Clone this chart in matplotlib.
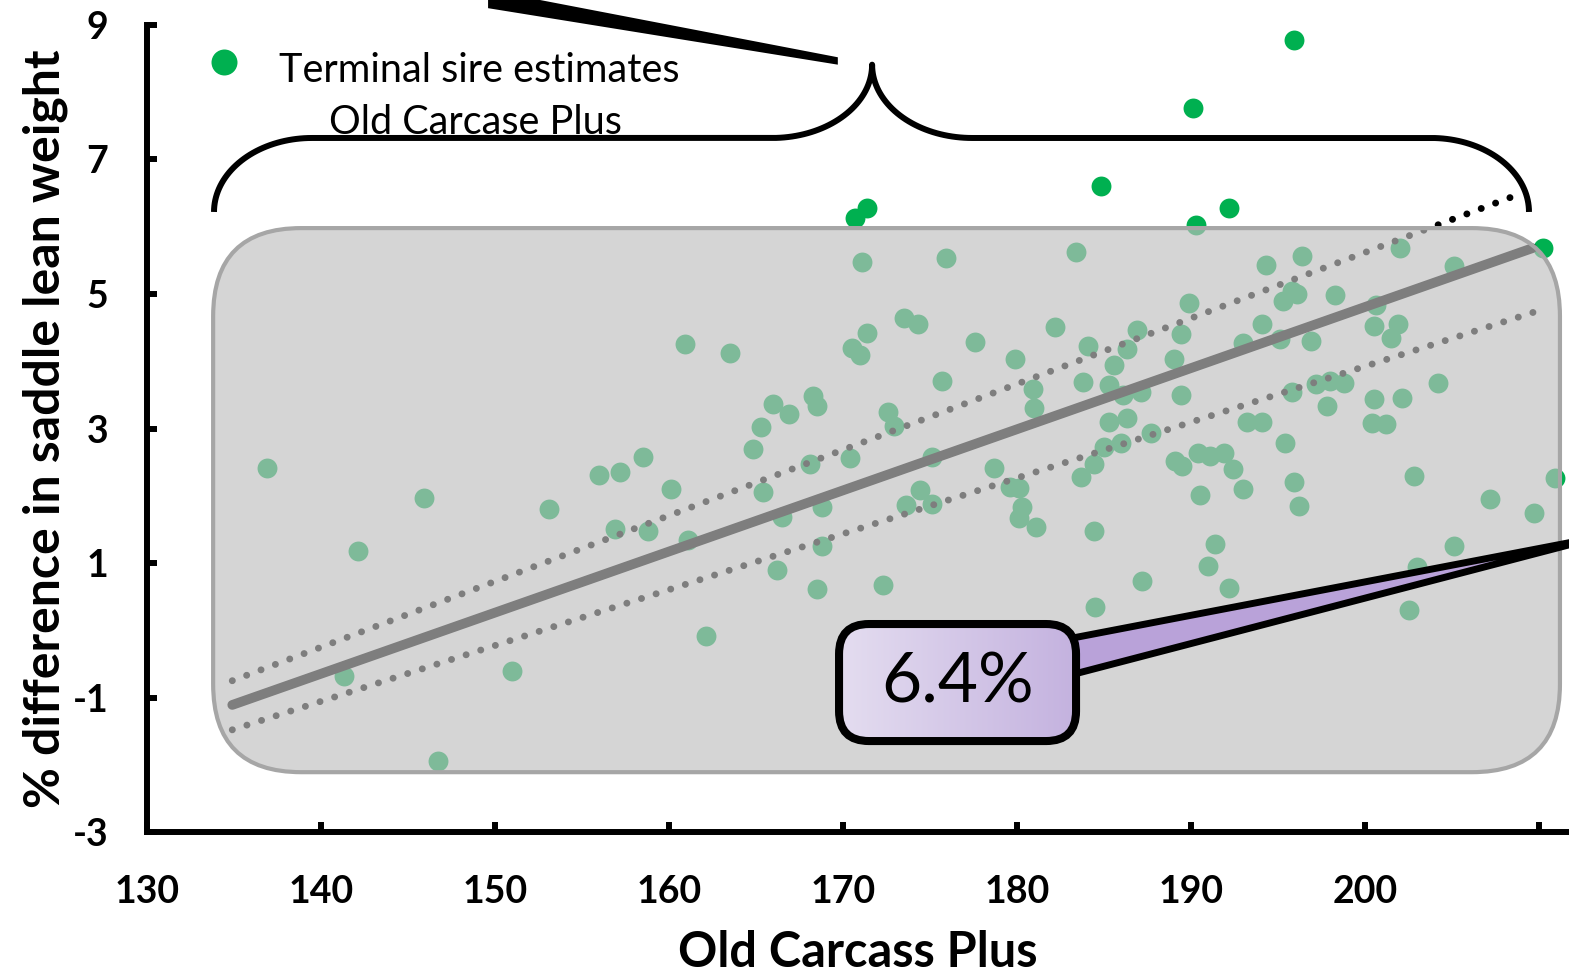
import numpy as np
import matplotlib.pyplot as plt
from matplotlib.patches import FancyBboxPatch, Polygon
from matplotlib.colors import LinearSegmentedColormap

plt.rcParams['font.family'] = ['Lato', 'DejaVu Sans']
plt.rcParams['axes.unicode_minus'] = False

# Terminal sire estimates: Old Carcase Plus vs % difference in saddle lean weight
ocp = [195.9, 190.1, 184.8, 192.2, 171.4, 170.7, 190.3, 210.2, 210.9,
       171.1, 175.9, 183.4, 160.9, 163.5, 173.5, 174.3, 171.4, 170.5, 171.0,
       177.6, 182.2, 179.9, 184.1, 175.7, 183.8, 185.3, 180.9, 181.0, 185.3,
       166.0, 166.9, 168.3, 168.5, 165.3, 164.8, 172.6, 172.9, 158.5, 160.1,
       168.1, 170.4, 175.1, 178.7, 179.6, 180.1, 185.0, 184.4, 183.7, 165.4,
       174.4, 194.3, 196.4, 202.0, 205.1, 189.9, 186.9, 189.4, 195.8, 196.1,
       195.3, 198.3, 194.1, 200.6, 200.5, 201.9, 201.5, 193.0, 195.1, 196.9,
       186.3, 185.6, 189.0, 186.1, 187.1, 189.4, 186.3, 186.0, 187.7, 195.8,
       197.2, 198.0, 198.8, 197.8, 200.5, 202.1, 204.2, 193.2, 194.1, 195.4,
       200.4, 201.2, 189.1, 189.5, 190.4, 191.1, 191.9, 192.4, 195.9, 202.8,
       193.0, 190.5, 207.2, 196.2, 209.7, 191.4, 191.0, 192.2, 187.2, 205.1,
       203.0, 202.5, 158.8, 161.1, 166.5, 168.8, 173.6, 175.1, 180.3, 180.1,
       181.1, 184.4, 168.8, 166.2, 168.5, 172.3, 184.5, 162.1, 136.9, 145.9,
       142.1, 153.1, 156.0, 157.2, 156.9, 141.3, 151.0, 146.7]
saddle = [8.78, 7.77, 6.61, 6.28, 6.28, 6.13, 6.03, 5.68, 2.26,
          5.48, 5.54, 5.62, 4.26, 4.13, 4.65, 4.55, 4.42, 4.20, 4.09,
          4.29, 4.51, 4.03, 4.23, 3.70, 3.69, 3.65, 3.59, 3.30, 3.09,
          3.36, 3.21, 3.49, 3.34, 3.02, 2.70, 3.24, 3.03, 2.57, 2.10,
          2.47, 2.56, 2.57, 2.42, 2.13, 2.11, 2.73, 2.47, 2.28, 2.05,
          2.08, 5.43, 5.57, 5.68, 5.42, 4.86, 4.47, 4.41, 5.05, 5.00,
          4.89, 4.99, 4.56, 4.83, 4.53, 4.56, 4.35, 4.27, 4.33, 4.30,
          4.18, 3.94, 4.04, 3.50, 3.54, 3.50, 3.15, 2.78, 2.94, 3.55,
          3.66, 3.71, 3.68, 3.33, 3.44, 3.46, 3.67, 3.10, 3.09, 2.79,
          3.08, 3.07, 2.52, 2.45, 2.63, 2.59, 2.63, 2.40, 2.21, 2.30,
          2.10, 2.01, 1.95, 1.85, 1.74, 1.28, 0.96, 0.63, 0.73, 1.26,
          0.94, 0.30, 1.47, 1.34, 1.68, 1.83, 1.87, 1.88, 1.84, 1.67,
          1.54, 1.48, 1.25, 0.89, 0.62, 0.67, 0.35, -0.08, 2.42, 1.97,
          1.18, 1.81, 2.31, 2.35, 1.50, -0.68, -0.60, -1.94]

# regression line and its two dotted bounds
fit_x = [134.9, 209.6]
fit_y = [-1.11, 5.68]
upper_x = [134.9, 208.4]
upper_y = [-0.75, 6.44]
lower_x = [134.9, 209.7]
lower_y = [-1.48, 4.73]

x_ticks = [130, 140, 150, 160, 170, 180, 190, 200, 210]
x_tick_labels = ['130', '140', '150', '160', '170', '180', '190', '200', '']
y_ticks = [-3, -1, 1, 3, 5, 7, 9]

legend_lines = ['Terminal sire estimates', 'Old Carcase Plus']
callout_text = '6.4%'

green = '#00b050'

fig = plt.figure(figsize=(15.69, 9.76), dpi=100)
ax = fig.add_axes([0.0937, 0.1475, 0.9063, 0.8269])

ax.scatter(ocp, saddle, s=205, color=green, linewidths=0, zorder=2)
ax.plot(fit_x, fit_y, color='black', lw=7, solid_capstyle='round', zorder=3)
for lx, ly in [(upper_x, upper_y), (lower_x, lower_y)]:
    ax.plot(lx, ly, color='black', lw=5, linestyle=(0, (0.01, 2.2)),
            dash_capstyle='round', zorder=3)

# translucent grey panel over the bulk of the data
asp = 17.4 / 67.25
panel = FancyBboxPatch((133.8, -2.11), 77.4, 8.09,
                       boxstyle='round,pad=0,rounding_size=5.06',
                       mutation_aspect=asp, facecolor=(0.753, 0.753, 0.753, 0.66),
                       edgecolor='#a6a6a6', lw=3, zorder=4, clip_on=False)
ax.add_patch(panel)

# curly brace
t = np.linspace(0, np.pi / 2, 40)
bx = np.concatenate([139.48 - 5.63 * np.cos(t), 165.92 + 5.75 * np.sin(t),
                     177.42 - 5.75 * np.cos(t), 203.79 + 5.63 * np.sin(t)])
by = np.concatenate([6.22 + 1.10 * np.sin(t), 8.41 - 1.09 * np.cos(t),
                     8.41 - 1.09 * np.sin(t), 6.22 + 1.10 * np.cos(t)])
ax.plot(bx, by, color='black', lw=4.3, solid_joinstyle='round',
        solid_capstyle='butt', zorder=5, clip_on=False)

# pointer coming in from the top
ax.add_patch(Polygon([(149.6, 9.52), (169.7, 8.52), (169.7, 8.41), (149.6, 9.25)],
                     closed=True, facecolor='black', edgecolor='none',
                     zorder=6, clip_on=False))

# legend entry
ax.scatter([134.43], [8.45], s=350, color=green, linewidths=0, zorder=6, clip_on=False)
ax.text(149.08, 8.33, legend_lines[0], fontsize=28.5, ha='center', va='center', zorder=6)
ax.text(148.85, 7.55, legend_lines[1], fontsize=28.5, ha='center', va='center', zorder=6)

# 6.4% callout with wedge
wedge = Polygon([(182.47, -0.151), (213.5, 1.39), (182.47, -0.706)], closed=True,
                facecolor='#b9a2d9', edgecolor='black', lw=5, joinstyle='round',
                zorder=6, clip_on=False)
ax.add_patch(wedge)
cbox = FancyBboxPatch((169.77, -1.647), 13.62, 1.74,
                      boxstyle='round,pad=0,rounding_size=1.72',
                      mutation_aspect=asp, facecolor='#d6cbe8', edgecolor='none',
                      zorder=7)
ax.add_patch(cbox)
grad = np.linspace(0, 1, 256).reshape(1, -1)
cmap = LinearSegmentedColormap.from_list('lav', ['#e4ddf0', '#c4b2df'])
im = ax.imshow(grad, cmap=cmap, extent=(169.77, 183.39, -1.647, 0.093),
               aspect='auto', zorder=7.5)
im.set_clip_path(cbox)
ax.add_patch(FancyBboxPatch((169.77, -1.647), 13.62, 1.74,
                            boxstyle='round,pad=0,rounding_size=1.72',
                            mutation_aspect=asp, facecolor='none',
                            edgecolor='black', lw=5.8, zorder=8))
ax.text(176.58, -0.78, callout_text, fontsize=50, ha='center', va='center', zorder=9)

ax.set_xlim(130, 211.72)
ax.set_ylim(-3, 9)
ax.set_xticks(x_ticks)
ax.set_xticklabels(x_tick_labels)
ax.set_yticks(y_ticks)
for s in ['top', 'right']:
    ax.spines[s].set_visible(False)
for s in ['left', 'bottom']:
    ax.spines[s].set_linewidth(4.3)
ax.tick_params(direction='in', length=7, width=4.3, labelsize=27)
ax.tick_params(axis='x', pad=31)
ax.tick_params(axis='y', pad=28)
for lab in ax.get_xticklabels() + ax.get_yticklabels():
    lab.set_fontweight('bold')

ax.set_xlabel('Old Carcass Plus', fontsize=35, fontweight='bold', labelpad=15)
ax.set_ylabel('% difference in saddle lean weight', fontsize=36, fontweight='bold', labelpad=3)

fig.savefig('out.png', dpi=100)
